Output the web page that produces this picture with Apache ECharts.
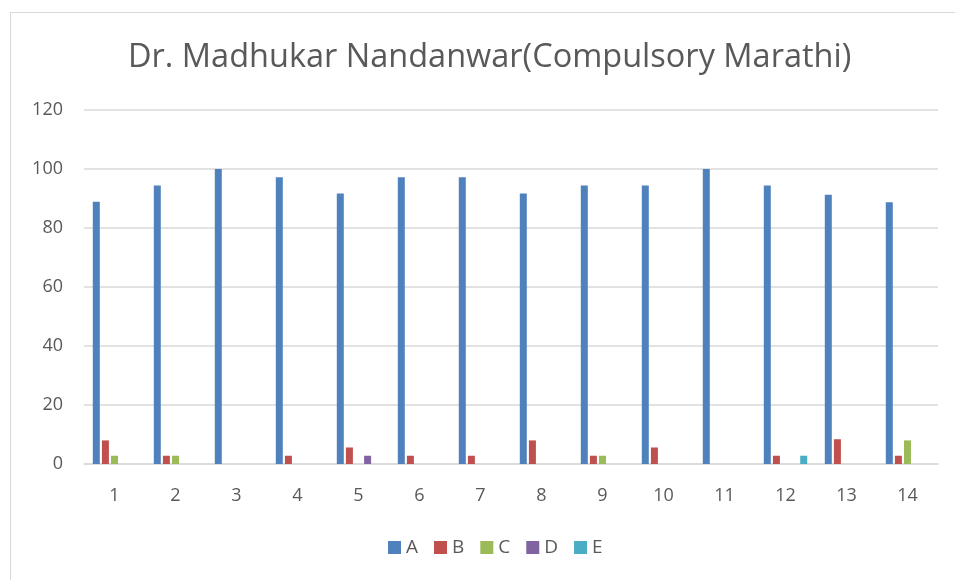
<!DOCTYPE html>
<html>
<head>
<meta charset="utf-8">
<script src="https://cdn.jsdelivr.net/npm/echarts@6/dist/echarts.min.js"></script>
<style>
  html, body { margin: 0; padding: 0; background: #fff; }
  #frame { position: absolute; left: 10px; top: 12px; width: 960px; height: 580px; border: 1px solid #d9d9d9; box-sizing: border-box; }
  #main { position: absolute; left: 0; top: 0; width: 955px; height: 580px; }
</style>
</head>
<body>
<div id="frame"></div>
<div id="main"></div>
<script>
// 数据
var categories = ['1', '2', '3', '4', '5', '6', '7', '8', '9', '10', '11', '12', '13', '14'];
var seriesA = [88.9, 94.4, 100, 97.2, 91.7, 97.2, 97.2, 91.7, 94.4, 94.4, 100, 94.4, 91.3, 88.7];
var seriesB = [8.0, 2.8, 0, 2.8, 5.6, 2.8, 2.8, 8.0, 2.8, 5.6, 0, 2.8, 8.4, 2.8];
var seriesC = [2.8, 2.8, 0, 0, 0, 0, 0, 0, 2.8, 0, 0, 0, 0, 8.0];
var seriesD = [0, 0, 0, 0, 2.8, 0, 0, 0, 0, 0, 0, 0, 0, 0];
var seriesE = [0, 0, 0, 0, 0, 0, 0, 0, 0, 0, 0, 2.8, 0, 0];
var yTicks = [0, 20, 40, 60, 80, 100, 120];

var names = ['A', 'B', 'C', 'D', 'E'];
var colors = ['#4F81BD', '#C0504D', '#9BBB59', '#8064A2', '#4BACC6'];
var allData = [seriesA, seriesB, seriesC, seriesD, seriesE];

var myChart = echarts.init(document.getElementById('main'));

var series = [];
for (var i = 0; i < names.length; i++) {
  series.push({
    name: names[i],
    type: 'bar',
    data: allData[i],
    barWidth: 7,
    barGap: '30%',
    itemStyle: { color: colors[i] }
  });
}

var option = {
  animation: false,
  color: colors,
  textStyle: { fontFamily: 'Open Sans' },
  title: {
    text: 'Dr. Madhukar Nandanwar(Compulsory Marathi)',
    left: 123,
    top: 36,
    textStyle: { fontSize: 32.5, fontWeight: 'normal', color: '#595959', fontFamily: 'Open Sans' }
  },
  legend: {
    data: names,
    bottom: 18,
    left: 383,
    icon: 'rect',
    itemWidth: 13,
    itemHeight: 13,
    itemGap: 16,
    textStyle: { fontSize: 19, color: '#595959' }
  },
  grid: { left: 84, right: 17, top: 110, bottom: 116 },
  xAxis: {
    type: 'category',
    data: categories,
    axisLine: { lineStyle: { color: '#d9d9d9', width: 1.5 } },
    axisTick: { show: false },
    axisLabel: { fontSize: 18, color: '#595959', margin: 23 }
  },
  yAxis: {
    type: 'value',
    min: yTicks[0],
    max: yTicks[yTicks.length - 1],
    interval: 20,
    axisLine: { show: false },
    axisTick: { show: false },
    splitLine: { lineStyle: { color: '#d9d9d9', width: 1.5 } },
    axisLabel: { fontSize: 18, color: '#595959', margin: 21 }
  },
  series: series
};

myChart.setOption(option);
</script>
</body>
</html>
